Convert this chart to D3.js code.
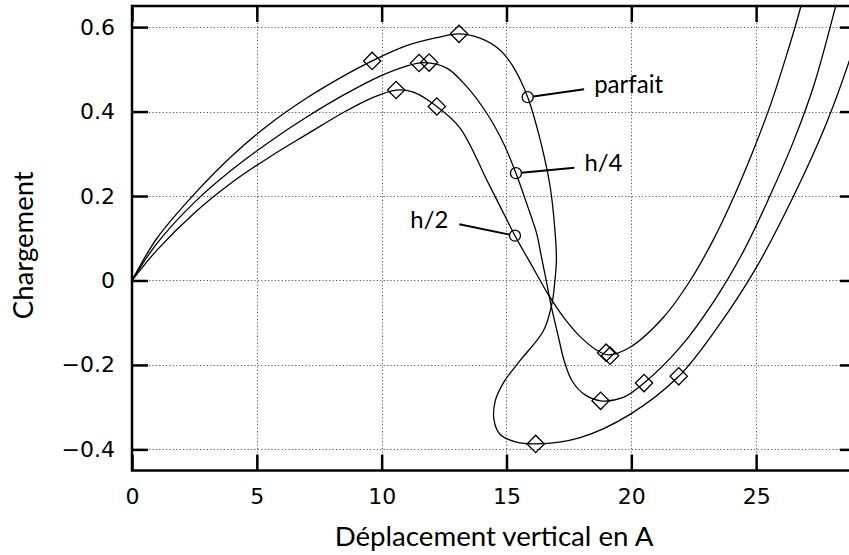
<!DOCTYPE html>
<html><head><meta charset="utf-8">
<script src="https://cdn.jsdelivr.net/npm/d3@7"></script>
<style>body{margin:0;background:#fff}svg{display:block}</style>
</head><body>
<svg id="c" width="849" height="555"></svg>
<script>
// ---- data ----
const xTicks = [0, 5, 10, 15, 20, 25];
const yTicks = [-0.4, -0.2, 0, 0.2, 0.4, 0.6];
const xLabel = "Déplacement vertical en A";
const yLabel = "Chargement";

const parfaitX = [0,1,2.5,4,5.5,7,8.5,9.62,11,12.2,13.1,13.94,14.74,15.26,15.85,16.35,16.75,16.95,17.0,16.92,16.82,16.48,15.54,14.9,14.55,14.50,14.74,15.4,16.17,17.95,19.95,21.9,23.4,25.0,26.5,27.8,28.9,29.3];
const parfaitY = [0,0.1,0.205,0.295,0.37,0.432,0.485,0.520,0.556,0.575,0.584,0.574,0.546,0.507,0.434,0.333,0.222,0.112,0.048,-0.012,-0.055,-0.119,-0.190,-0.240,-0.285,-0.330,-0.364,-0.383,-0.387,-0.372,-0.317,-0.227,-0.115,0.03,0.2,0.37,0.55,0.63];

const h4X = [0,1,2.5,4,5.5,7,8.5,9.94,10.9,11.7,12.61,13.41,14.21,14.88,15.38,15.81,16.21,16.35,16.59,16.83,17.07,17.31,17.63,18.15,18.77,19.68,20.51,21.96,23.3,24.5,25.55,26.5,27.3,28.1,28.4];
const h4Y = [0,0.088,0.185,0.262,0.328,0.387,0.44,0.484,0.506,0.516,0.503,0.459,0.396,0.325,0.254,0.182,0.111,0.071,0.0,-0.071,-0.131,-0.19,-0.238,-0.271,-0.285,-0.277,-0.243,-0.158,-0.05,0.07,0.2,0.33,0.46,0.63,0.7];

const h2X = [0,1,2.5,4,5.5,7,8.5,9.6,10.58,11.27,12.21,13.14,14.21,14.74,15.34,15.67,15.99,16.35,16.67,16.99,17.39,17.95,18.59,19.07,19.95,21.29,22.36,23.3,24.12,24.9,25.6,26.2,26.75,27.0];
const h2Y = [0,0.072,0.16,0.232,0.292,0.346,0.399,0.432,0.451,0.446,0.412,0.361,0.238,0.176,0.106,0.071,0.038,0.0,-0.033,-0.062,-0.095,-0.133,-0.164,-0.176,-0.158,-0.087,0.0,0.098,0.2,0.31,0.42,0.53,0.64,0.7];

// diamond markers per curve
const parfaitMarkX = [9.62, 13.1, 16.17, 21.9];
const parfaitMarkY = [0.520, 0.584, -0.387, -0.227];
const h4MarkX = [11.5, 11.9, 18.77, 20.51];
const h4MarkY = [0.515, 0.516, -0.285, -0.243];
const h2MarkX = [10.58, 12.21, 18.99, 19.15];
const h2MarkY = [0.451, 0.412, -0.171, -0.178];

// labelled points (circle on curve, leader line end, label text)
const labelNames = ["parfait", "h/4", "h/2"];
const labelPtX = [15.85, 15.38, 15.34];
const labelPtY = [0.434, 0.254, 0.106];
const leaderEndX = [18.11, 17.72, 13.11];
const leaderEndY = [0.453, 0.267, 0.133];

// ---- layout ----
const svg = d3.select("#c");
const x = d3.scaleLinear().domain([0, 29]).range([132, 856]);
const y = d3.scaleLinear().domain([-0.45, 0.65]).range([470.5, 6]);
const X0 = x.range()[0], X1 = x.range()[1], Y0 = y.range()[0], Y1 = y.range()[1];
const tickFont = "'DejaVu Sans', sans-serif";
const labFont = "Lato, 'DejaVu Sans', sans-serif";

svg.append("defs").append("clipPath").attr("id", "clip")
  .append("rect").attr("x", X0).attr("y", Y1).attr("width", X1 - X0).attr("height", Y0 - Y1);

// grid
const grid = svg.append("g").attr("stroke", "#555").attr("stroke-width", 1).attr("stroke-dasharray", "1.2,2.2");
grid.selectAll(".gx").data(xTicks.filter(d => d > 0)).join("line")
  .attr("x1", d => Math.round(x(d)) + 0.5).attr("x2", d => Math.round(x(d)) + 0.5)
  .attr("y1", Y1).attr("y2", Y0);
grid.selectAll(".gy").data(yTicks).join("line")
  .attr("y1", d => Math.round(y(d)) + 0.5).attr("y2", d => Math.round(y(d)) + 0.5)
  .attr("x1", X0).attr("x2", X1);

// axes
const yFmt = d => d === 0 ? "0" : d3.format(".1f")(d);
const tk = 16;
function styleAxis(g) {
  g.select(".domain").remove();
  g.selectAll(".tick line").attr("stroke", "#000").attr("stroke-width", 2.5);
  g.selectAll(".tick text").attr("fill", "#000").style("font-family", tickFont).style("font-size", "22px");
}
svg.append("g").attr("transform", `translate(0,${Y0})`)
  .call(d3.axisBottom(x).tickValues(xTicks).tickFormat(d3.format("d")).tickSizeInner(-tk).tickSizeOuter(0).tickPadding(18))
  .call(styleAxis);
svg.append("g").attr("transform", `translate(0,${Y1})`)
  .call(d3.axisTop(x).tickValues(xTicks).tickFormat("").tickSizeInner(-tk).tickSizeOuter(0))
  .call(styleAxis);
svg.append("g").attr("transform", `translate(${X0},0)`)
  .call(d3.axisLeft(y).tickValues(yTicks).tickFormat(yFmt).tickSizeInner(-tk).tickSizeOuter(0).tickPadding(17))
  .call(styleAxis);
svg.append("g").attr("transform", `translate(${X1},0)`)
  .call(d3.axisRight(y).tickValues(yTicks).tickFormat("").tickSizeInner(-tk).tickSizeOuter(0))
  .call(styleAxis);

// frame
svg.append("rect").attr("x", X0).attr("y", Y1).attr("width", X1 - X0).attr("height", Y0 - Y1)
  .attr("fill", "none").attr("stroke", "#000").attr("stroke-width", 2.5);

// curves
const series = [
  {xs: parfaitX, ys: parfaitY, mx: parfaitMarkX, my: parfaitMarkY},
  {xs: h4X, ys: h4Y, mx: h4MarkX, my: h4MarkY},
  {xs: h2X, ys: h2Y, mx: h2MarkX, my: h2MarkY}
];
const line = d3.line().x(d => x(d[0])).y(d => y(d[1])).curve(d3.curveCatmullRom.alpha(0.5));
const plot = svg.append("g").attr("clip-path", "url(#clip)");
series.forEach(s => {
  const pts = s.xs.map((v, i) => [v, s.ys[i]]);
  plot.append("path").attr("d", line(pts)).attr("fill", "none").attr("stroke", "#000").attr("stroke-width", 1.3);
});
const diamond = d3.symbol(d3.symbolSquare, 150);
series.forEach(s => {
  plot.selectAll(null).data(s.mx.map((v, i) => [v, s.my[i]])).join("path")
    .attr("d", diamond)
    .attr("transform", d => `translate(${x(d[0])},${y(d[1])}) rotate(45)`)
    .attr("fill", "none").attr("stroke", "#000").attr("stroke-width", 1.3);
});

function fit(sel, w, fs) {
  const l = sel.node().getComputedTextLength();
  sel.style("font-size", (fs * w / l) + "px");
}

// labels with leader lines
const r = 5.5;
labelNames.forEach((name, i) => {
  const cx = x(labelPtX[i]), cy = y(labelPtY[i]);
  const ex = x(leaderEndX[i]), ey = y(leaderEndY[i]);
  const dx = ex - cx, dy = ey - cy, L = Math.hypot(dx, dy);
  svg.append("line").attr("x1", cx + dx / L * r).attr("y1", cy + dy / L * r)
    .attr("x2", ex).attr("y2", ey).attr("stroke", "#000").attr("stroke-width", 2);
  svg.append("circle").attr("cx", cx).attr("cy", cy).attr("r", r)
    .attr("fill", "none").attr("stroke", "#000").attr("stroke-width", 1.3);
  const right = dx > 0;
  const t = svg.append("text").text(name)
    .attr("x", right ? ex + 10 : ex - 11).attr("y", ey + 3.5)
    .attr("text-anchor", right ? "start" : "end")
    .style("font-family", labFont).style("font-size", "24px").attr("fill", "#000");
  fit(t, name === "parfait" ? 69 : 38, 24);
});

// axis titles
const xt = svg.append("text").text(xLabel).attr("x", (X0 + X1) / 2).attr("y", 546)
  .attr("text-anchor", "middle").style("font-family", labFont).style("font-size", "26px").attr("fill", "#000");
fit(xt, 319, 26);
const yt = svg.append("text").text(yLabel)
  .attr("transform", `translate(33,${(Y0 + Y1) / 2 + 7}) rotate(-90)`)
  .attr("text-anchor", "middle").style("font-family", labFont).style("font-size", "26px").attr("fill", "#000");
fit(yt, 148, 26);
</script>
</body></html>
